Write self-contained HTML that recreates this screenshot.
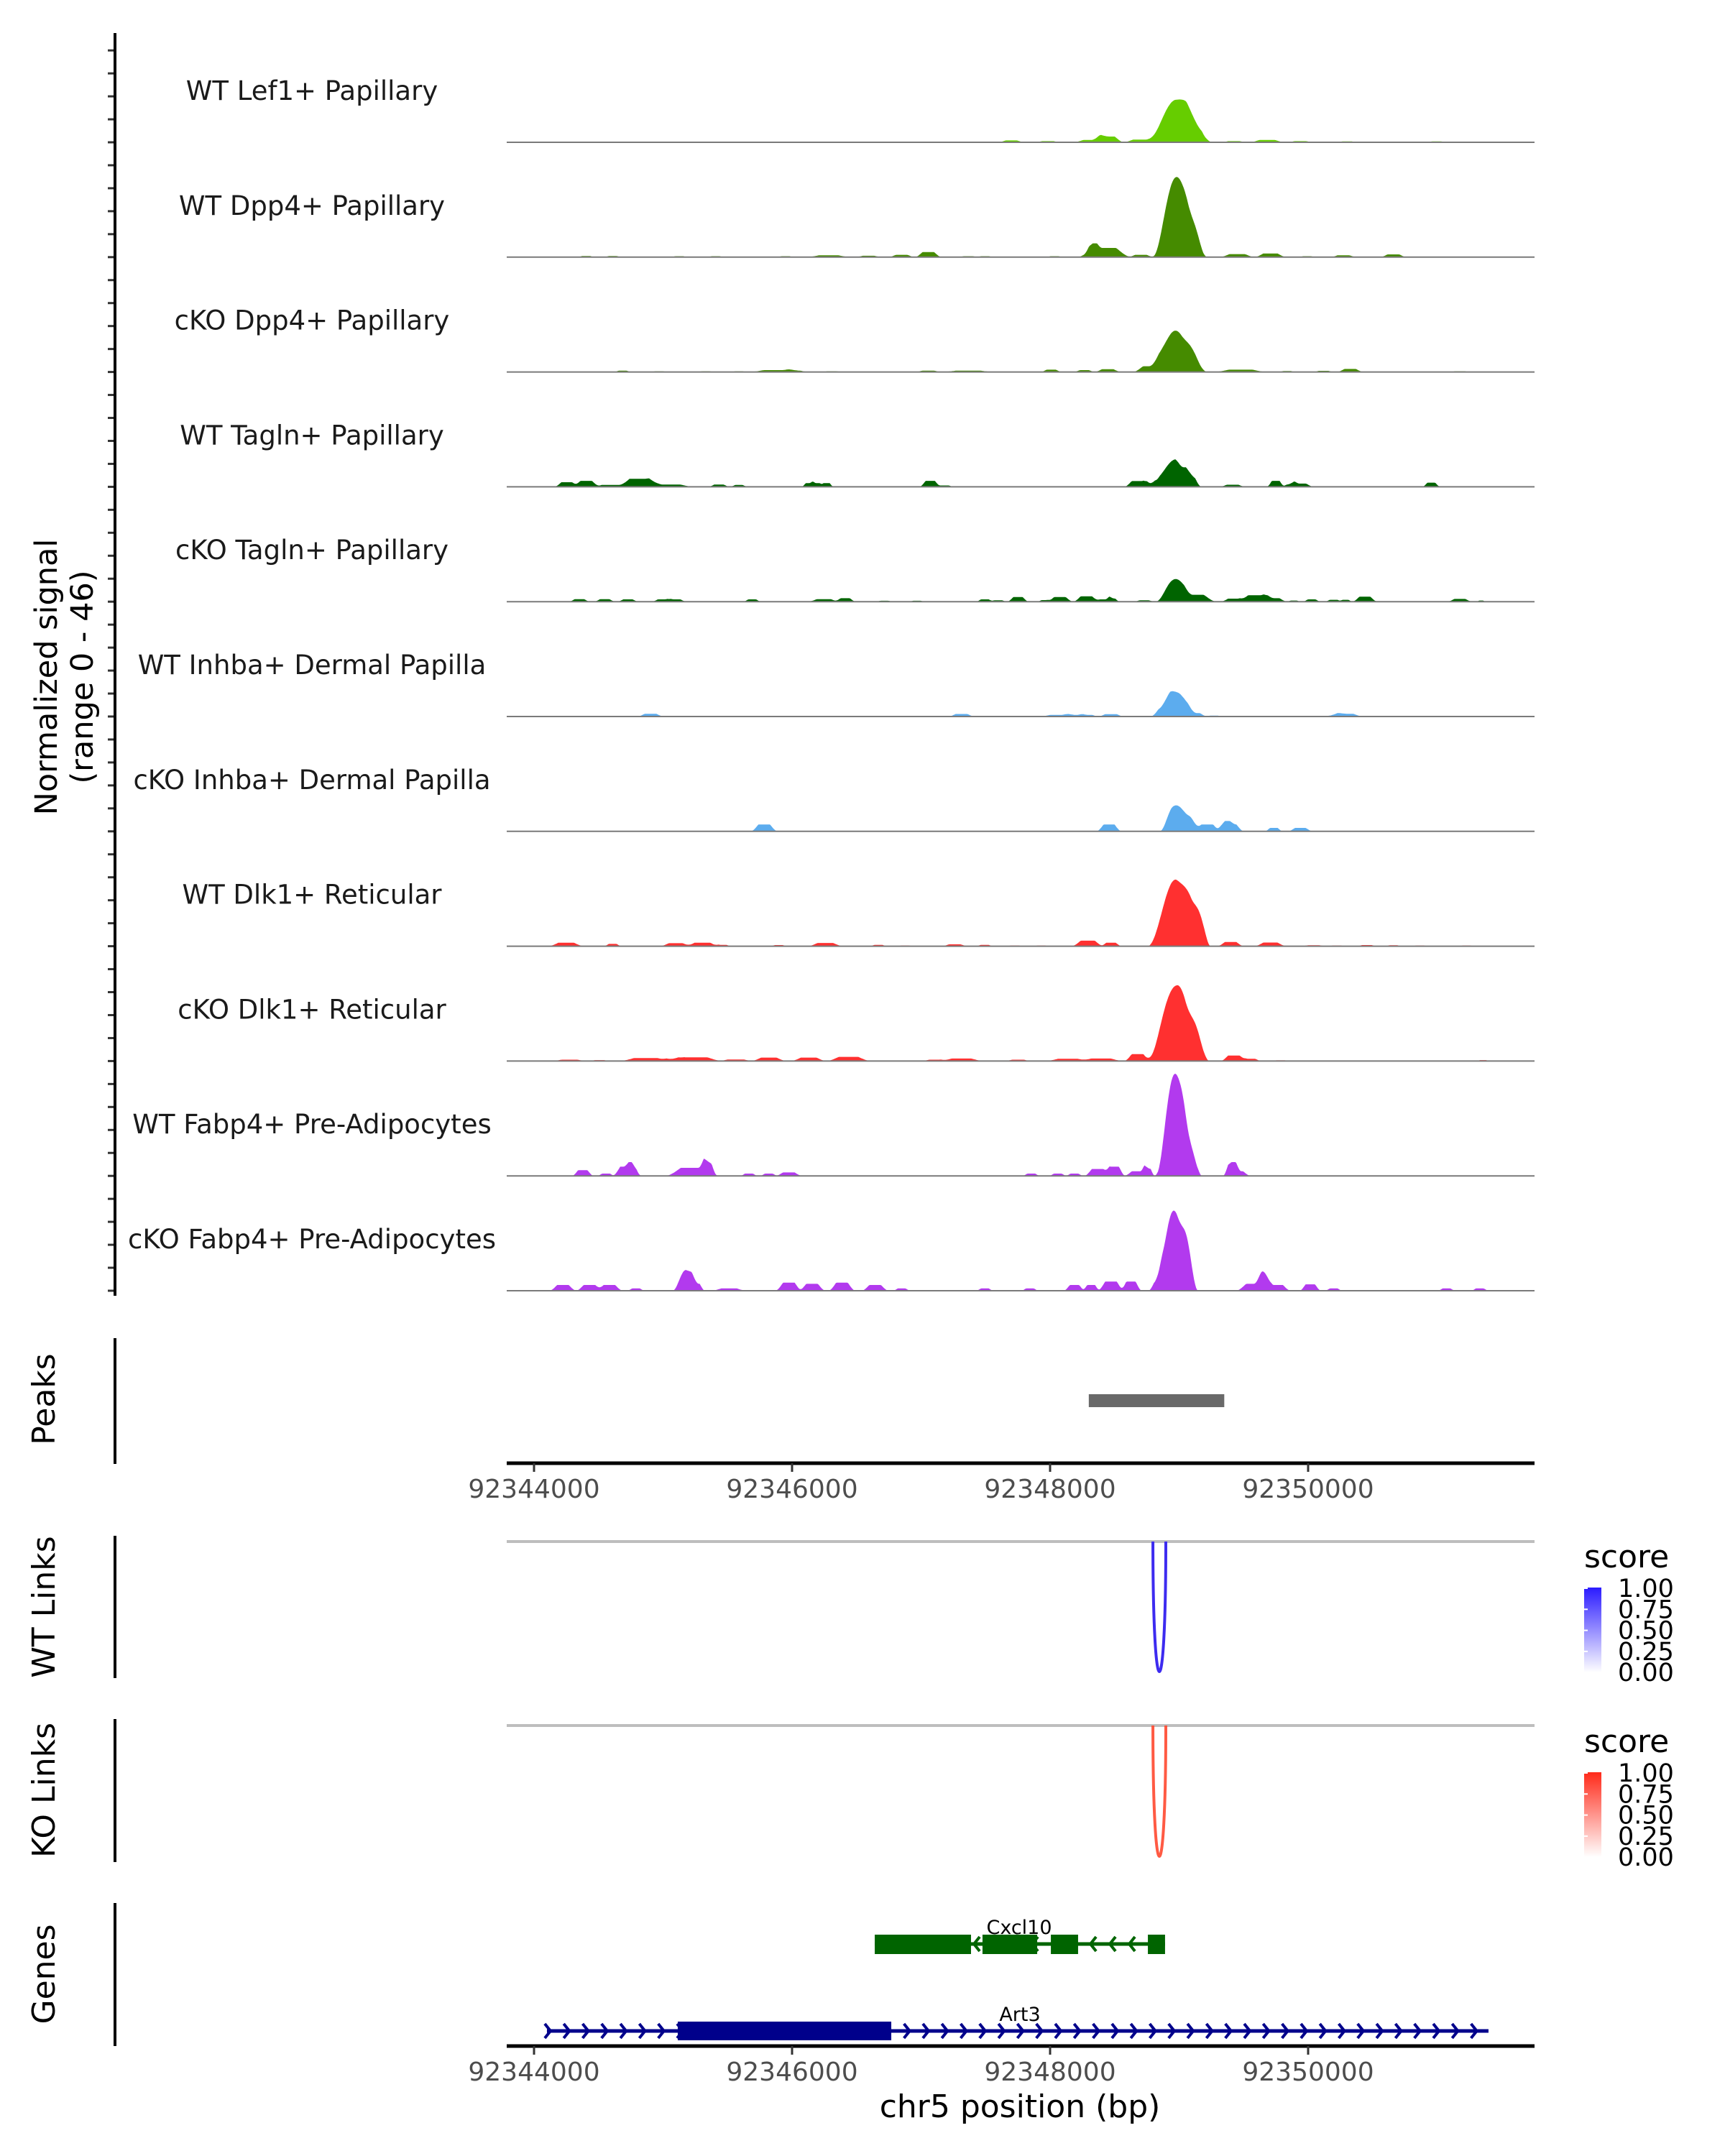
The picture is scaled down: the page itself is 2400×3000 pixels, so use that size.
<!DOCTYPE html>
<html><head><meta charset="utf-8"><style>
html,body{margin:0;padding:0;background:#fff;}
svg{display:block;font-family:"DejaVu Sans","Liberation Sans",sans-serif;}
</style></head><body>
<svg id="chart" width="2400" height="3000" viewBox="0 0 2400 3000" xmlns="http://www.w3.org/2000/svg">
<defs>
<linearGradient id="gBlue" x1="0" y1="1" x2="0" y2="0"><stop offset="0" stop-color="#ffffff"/><stop offset="1" stop-color="#2b1bff"/></linearGradient>
<linearGradient id="gRed" x1="0" y1="1" x2="0" y2="0"><stop offset="0" stop-color="#ffffff"/><stop offset="1" stop-color="#ff2a1a"/></linearGradient>
</defs>
<g id="tracks"></g>
<g id="axes"></g>
<text transform="translate(79,942) rotate(-90)" text-anchor="middle" font-size="43" fill="#000">Normalized signal</text>
<text transform="translate(129,942) rotate(-90)" text-anchor="middle" font-size="43" fill="#000">(range 0 - 46)</text>
<text transform="translate(76,1947) rotate(-90)" text-anchor="middle" font-size="44" fill="#000">Peaks</text>
<text transform="translate(76,2236) rotate(-90)" text-anchor="middle" font-size="44" fill="#000">WT Links</text>
<text transform="translate(76,2491) rotate(-90)" text-anchor="middle" font-size="44" fill="#000">KO Links</text>
<text transform="translate(76,2747) rotate(-90)" text-anchor="middle" font-size="44" fill="#000">Genes</text>
<text x="1419" y="2946" text-anchor="middle" font-size="44" fill="#000">chr5 position (bp)</text>
<g>
<text x="2204" y="2181" font-size="44" fill="#000">score</text>
<rect x="2204" y="2209" width="24" height="118" fill="url(#gBlue)"/>
</g>
<g>
<text x="2204" y="2438" font-size="44" fill="#000">score</text>
<rect x="2204" y="2466" width="24" height="118" fill="url(#gRed)"/>
</g>
<g id="extra"></g>
</svg>
<script>
// ---- data ----
const regionStart = 92343760; // positions below are offsets (bp) from this
const trackNames = ["WT Lef1+ Papillary","WT Dpp4+ Papillary","cKO Dpp4+ Papillary","WT Tagln+ Papillary","cKO Tagln+ Papillary","WT Inhba+ Dermal Papilla","cKO Inhba+ Dermal Papilla","WT Dlk1+ Reticular","cKO Dlk1+ Reticular","WT Fabp4+ Pre-Adipocytes","cKO Fabp4+ Pre-Adipocytes"];
const trackColors = ["#66cd00","#458b00","#458b00","#006400","#006400","#5cacee","#5cacee","#ff3030","#ff3030","#b23aee","#b23aee"];
const lef1Pos=[5217,5356,4944,4687,4558,3940,4223,5665,5923,6180,6541,7236,1442,773,2060,2575];
const lef1Val=[18.5,4,1.2,2.5,1,0.8,0.5,0.5,1,0.5,0.4,0.4,0.3,0.2,0.2,0.2];
const lef1Wid=[232,103,103,93,103,77,77,77,103,77,62,62,77,77,103,103];
const wtDppPos=[5238,5150,5382,4661,4573,4944,3296,3090,2833,2524,2189,1648,1365,850,644,3605,3734,4275,5691,5948,6232,6515,6901];
const wtDppVal=[33,6,5,4,2,1,2.2,1,0.6,0.8,0.4,0.4,0.4,0.5,0.5,0.4,0.4,0.4,1.3,1.6,0.4,0.8,1.2];
const wtDppWid=[196,129,77,155,52,77,77,77,77,129,52,52,52,52,52,62,52,52,103,93,52,77,77];
const koDppPos=[5212,5356,5021,4687,4506,4249,3605,3296,2112,2266,927,1210,1571,1828,2549,5717,6077,6360,6566,7416,6875];
const koDppVal=[18,5,2.5,1.2,0.8,1,0.6,0.6,0.8,0.5,0.6,0.3,0.3,0.3,0.3,1,0.4,0.5,1.3,0.3,0.2];
const koDppWid=[206,103,103,77,62,62,155,77,155,77,52,52,52,52,62,155,52,62,77,62,52];
const wtTagPos=[5217,5150,4918,5021,5330,494,644,824,1056,1288,1674,1828,2369,2431,2508,3311,3425,5655,5989,6180,6103,7195];
const wtTagVal=[9,3,2.5,1.5,3,2,2.6,0.8,3.5,1,1,0.8,1.6,1.6,1.6,2.6,0.6,0.9,2.6,1.4,1,1.8];
const wtTagWid=[180,103,77,52,62,72,77,103,129,144,62,52,41,41,41,62,52,77,52,77,52,52];
const koTagPos=[5202,5356,4970,3991,3734,3837,4316,4197,4522,4661,4723,5665,5835,5974,6129,6268,6438,6530,6680,7416,7581,592,788,968,1236,1339,1931,2487,2652,2956,3208];
const koTagVal=[9.5,3,0.6,2,1,0.6,2,0.7,2.3,1,1.3,1.3,2.8,1.5,0.5,1,0.8,0.8,2.2,1.2,0.5,1.1,1.1,1,1,1,1,1.1,1.5,0.4,0.4];
const koTagWid=[144,129,62,62,52,52,77,41,77,62,41,77,103,77,41,52,52,41,72,72,26,62,62,62,62,62,52,93,62,52,52];
const wtInhPos=[5222,5124,5356,1143,937,3554,3348,4300,4429,4532,4712,5511,5871,6154,6530,6438];
const wtInhVal=[10.5,3,1.5,1.2,0.3,1.1,0.2,0.7,0.7,0.7,1,0.4,0.3,0.3,1.2,0.3];
const wtInhWid=[155,77,77,77,52,77,52,103,77,62,77,52,52,52,103,77];
const koInhPos=[5202,5305,5459,5639,5598,2024,4697,5974,6180];
const koInhVal=[11,7,3,3,1.5,3,3,1.5,1.5];
const koInhWid=[113,113,77,77,62,77,72,52,72];
const wtDlkPos=[5212,5356,5408,4532,4712,489,850,1339,1545,1700,2137,2498,2910,3116,3502,3734,3966,4172,5639,5948,6283,6463,6695,6901,7107,7468];
const wtDlkVal=[29,10,6,2.4,1.5,1.5,1,1.3,1.5,0.6,0.5,1.4,0.6,0.3,0.8,0.6,0.3,0.3,1.8,1.6,0.4,0.3,0.5,0.4,0.3,0.3];
const wtDlkWid=[216,129,77,93,62,103,52,93,103,52,52,103,52,52,77,52,52,52,77,93,77,52,62,52,52,52];
const koDlkPos=[5227,5382,5099,4918,5665,5794,515,747,1107,1494,1313,1803,2060,2369,2678,3348,3554,3991,4378,4635,6026,6695,7133,7596];
const koDlkVal=[33,9,6,3,2.4,1,0.6,0.4,1.3,1.6,0.8,0.7,1.5,1.5,1.8,0.6,1.1,0.6,1,1.1,0.3,0.2,0.2,0.4];
const koDlkWid=[206,93,129,77,77,62,103,62,155,155,77,103,103,103,129,77,129,77,129,129,62,103,52,41];
const wtFabPos=[5227,5150,5356,4738,4609,4918,4996,5650,5691,618,953,798,1004,1468,1586,1906,2060,2215,4094,4300,4429];
const wtFabVal=[42,10,6,4,3,2,3,4,2,2.5,4,1,2,3.5,4,1,1,1.5,1,1,1];
const wtFabWid=[155,103,62,62,77,77,41,52,77,62,77,52,52,155,52,52,52,77,52,52,52];
const koFabPos=[5212,5305,5176,5073,1416,1494,464,670,824,1030,1751,2215,2395,2627,2884,3090,3734,4084,4429,4558,4712,4867,5897,5820,6000,6257,6438,7313,7571];
const koFabVal=[30,8,6,3,9,3,2.5,2.5,2.5,1,1,3.5,3,3.5,2.5,1,1,1,2.5,2.5,4,4,6,3,2.5,2.8,1,1,1];
const koFabWid=[180,77,103,52,103,52,77,77,77,52,103,77,77,77,77,52,52,52,62,52,77,62,77,103,77,62,52,52,52];
const xTicks=[92344000,92346000,92348000,92350000];
const peakStart=[92348300]; const peakEnd=[92349350];
const wtLinkStart=[92348797]; const wtLinkEnd=[92348897]; const wtLinkScore=[1.0];
const koLinkStart=[92348797]; const koLinkEnd=[92348897]; const koLinkScore=[0.85];
const legendBreaks=["1.00","0.75","0.50","0.25","0.00"];
const cxclExonStart=[92346641,92347476,92348006,92348758];
const cxclExonEnd=[92347387,92347900,92348217,92348891];
const art3Start=[92344100]; const art3End=[92351398];
const art3ExonStart=[92345114]; const art3ExonEnd=[92346769];

const tracks=[[lef1Pos,lef1Val,lef1Wid],[wtDppPos,wtDppVal,wtDppWid],[koDppPos,koDppVal,koDppWid],[wtTagPos,wtTagVal,wtTagWid],[koTagPos,koTagVal,koTagWid],[wtInhPos,wtInhVal,wtInhWid],[koInhPos,koInhVal,koInhWid],[wtDlkPos,wtDlkVal,wtDlkWid],[koDlkPos,koDlkVal,koDlkWid],[wtFabPos,wtFabVal,wtFabWid],[koFabPos,koFabVal,koFabWid]];

// ---- scales ----
const NS="http://www.w3.org/2000/svg";
const X0=705, X1=2135;
function xs(bp){return 743+(bp-92344000)*0.1795;}
const unitPx=3.196, base0=198, trackStep=159.8;
function ys(i,v){return base0+i*trackStep - Math.min(v,46)*unitPx;}
function mk(tag,attrs,parent){const e=document.createElementNS(NS,tag);for(const k in attrs)e.setAttribute(k,attrs[k]);parent.appendChild(e);return e;}
const gT=document.getElementById('tracks'), gA=document.getElementById('axes'), gE=document.getElementById('extra');

tracks.forEach((t,i)=>{
  const [pos,val,wid]=t;
  const base=base0+i*trackStep;
  let d=`M${xs(regionStart+300).toFixed(1)},${base}`;
  for(let off=300;off<=7800;off+=8){
    let s=0;
    for(let k=0;k<pos.length;k++){
      const w=val[k]<5?wid[k]*1.4:wid[k];
      const dd=Math.abs(off-pos[k]);
      if(dd<w){const f=0.5+0.5*Math.cos(Math.PI*dd/w);s+=val[k]*(val[k]<5?Math.min(1,f*1.6):f);}
    }
    d+=`L${xs(regionStart+off).toFixed(1)},${ys(i,s).toFixed(1)}`;
  }
  d+=`L${xs(regionStart+7800).toFixed(1)},${base}Z`;
  const p=mk('path',{d:d,fill:trackColors[i]},gT);
  
  
  const bl=mk('line',{x1:X0,x2:X1,y1:base,y2:base,stroke:'#7a7a7a','stroke-width':2},gT);
  
  
  const lb=mk('text',{x:434,y:base-59,'text-anchor':'middle','font-size':37,fill:'#1a1a1a'},gT);
  lb.textContent=trackNames[i];
  
  
  for(let k=0;k<5;k++){
    const y=base-k*10*unitPx;
    const tk=mk('line',{x1:150,x2:160,y1:y,y2:y,stroke:'#333','stroke-width':3},gA);
    
    
  }
});
// left axes
[[46,1803],[1862,2037],[2137,2335],[2392,2591],[2648,2847]].forEach(([a,b],j)=>{
  const l=mk('line',{x1:160,x2:160,y1:a,y2:b,stroke:'#000','stroke-width':4},gA);
  
  
});
// x axes
[2036,2847].forEach((y,j)=>{
  const l=mk('line',{x1:X0,x2:X1,y1:y,y2:y,stroke:'#000','stroke-width':5},gA);
  
  
  xTicks.forEach(v=>{
    const t=mk('line',{x1:xs(v),x2:xs(v),y1:y,y2:y+12,stroke:'#333','stroke-width':3},gA);
    
    
    const tl=mk('text',{x:xs(v),y:y+48,'text-anchor':'middle','font-size':36,fill:'#4d4d4d'},gA);
    tl.textContent=String(v);
    
    
  });
});
// peaks
peakStart.forEach((s,k)=>{
  const r=mk('rect',{x:xs(s),y:1940,width:xs(peakEnd[k])-xs(s),height:18,fill:'#696969'},gE);
  
  
});
// links
function drawLinks(starts,ends,scores,yTop,depth,col,name){
  const g=mk('line',{x1:X0,x2:X1,y1:yTop,y2:yTop,stroke:'#bebebe','stroke-width':4},gE);
  
  
  starts.forEach((s,k)=>{
    const a=xs(s), b=xs(ends[k]), cy=yTop+depth/0.75;
    const p=mk('path',{d:`M${a},${yTop} C${a},${cy} ${b},${cy} ${b},${yTop}`,fill:'none',stroke:col,'stroke-width':4,'stroke-opacity':0.4+0.6*scores[k]},gE);
    
    
  });
}
drawLinks(wtLinkStart,wtLinkEnd,wtLinkScore,2145,181,'#3d2bf0','wt-link');
drawLinks(koLinkStart,koLinkEnd,koLinkScore,2401,182,'#ff4a30','ko-link');
// legend labels
[[2210,'wt'],[2467,'ko']].forEach(([y0,nm])=>{
  legendBreaks.forEach((b,k)=>{
    const y=y0+k*29.3;
    const tl=mk('text',{x:2251,y:y+12,'font-size':35,fill:'#000'},gE);
    tl.textContent=b;
    
    
    const tk=mk('line',{x1:2204,x2:2209,y1:y,y2:y,stroke:'#fff','stroke-width':2},gE);
    
    
  });
});
// genes
function chevrons(x1,x2,y,dir,col,step,name){
  for(let x=x1;x<=x2;x+=step){
    const d=dir>0?`M${x-5},${y-10} L${x+3},${y} L${x-5},${y+10}`:`M${x+5},${y-10} L${x-3},${y} L${x+5},${y+10}`;
    const p=mk('path',{d:d,fill:'none',stroke:col,'stroke-width':4},gE);
    
    
  }
}
// Cxcl10 (minus strand)
{
  const y=2705, col='#006400';
  const a=xs(cxclExonStart[0]), b=xs(cxclExonEnd[cxclExonEnd.length-1]);
  const l=mk('line',{x1:a,x2:b,y1:y,y2:y,stroke:col,'stroke-width':5},gE);
  
  
  chevrons(a+6,b-10,y,-1,col,27,'cxcl10');
  cxclExonStart.forEach((s,k)=>{
    const r=mk('rect',{x:xs(s),y:y-13,width:xs(cxclExonEnd[k])-xs(s),height:27,fill:col},gE);
    
    
  });
  const t=mk('text',{x:1418,y:2691,'text-anchor':'middle','font-size':27,fill:'#000'},gE);
  t.textContent='Cxcl10';
  
  
}
// Art3 (plus strand)
{
  const y=2826, col='#00008b';
  const a=xs(art3Start[0]), b=xs(art3End[0]);
  const l=mk('line',{x1:a,x2:b,y1:y,y2:y,stroke:col,'stroke-width':5},gE);
  
  
  chevrons(a+2,b,y,1,col,26.3,'art3');
  art3ExonStart.forEach((s,k)=>{
    const r=mk('rect',{x:xs(s),y:y-13,width:xs(art3ExonEnd[k])-xs(s),height:26,fill:col},gE);
    
    
  });
  const t=mk('text',{x:1419,y:2812,'text-anchor':'middle','font-size':27,fill:'#000'},gE);
  t.textContent='Art3';
  
  
}
</script>
</body></html>
